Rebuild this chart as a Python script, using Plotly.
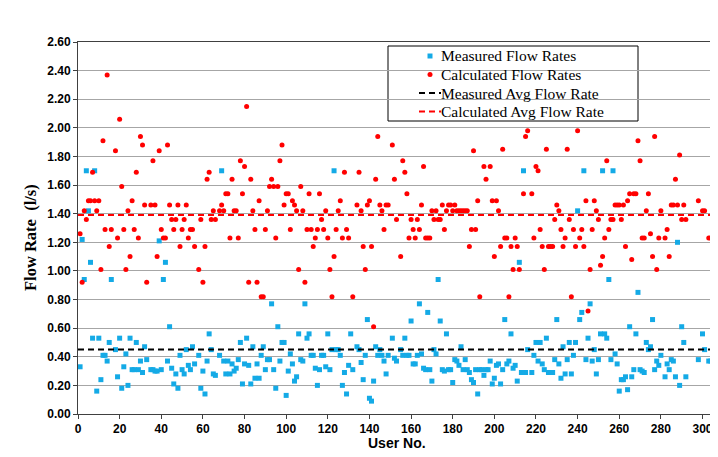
import plotly.graph_objects as go

# (user number, flow rate l/s)
measured_pairs = [
    (1, 0.33), (2, 1.22), (3, 0.94), (4, 1.70), (5, 1.42), (6, 1.06), (7, 0.53), (8, 1.70), (9, 0.16), (10, 0.53),
    (11, 0.24), (12, 0.41), (13, 0.41), (14, 0.37), (15, 0.50), (16, 0.94), (18, 0.45), (19, 0.26), (20, 0.53),
    (21, 0.18), (22, 0.33), (23, 0.42), (24, 0.20), (25, 0.53), (26, 0.31), (27, 0.31), (28, 0.50), (29, 0.31), (30, 0.37),
    (31, 0.29), (32, 0.47), (33, 0.38), (35, 0.31), (36, 0.31), (37, 0.30), (38, 0.30), (39, 1.21), (40, 0.31),
    (41, 0.94), (42, 1.06), (43, 0.37), (44, 0.61), (45, 0.32), (46, 0.21), (47, 0.28), (48, 0.18), (49, 0.41), (50, 0.31),
    (51, 0.28), (52, 0.45), (53, 0.34), (54, 0.31), (55, 0.47), (56, 0.35), (58, 0.41), (59, 0.18), (60, 0.30),
    (61, 0.14), (62, 0.37), (63, 0.56), (64, 0.45), (65, 0.28), (66, 0.27), (68, 0.41), (69, 1.70), (70, 0.37),
    (71, 0.28), (72, 0.37), (73, 0.28), (74, 0.35), (75, 0.30), (76, 0.32), (77, 0.38), (78, 0.50), (79, 0.21), (80, 0.35),
    (81, 0.53), (82, 0.34), (83, 0.21), (84, 0.47), (85, 0.25), (86, 0.35), (87, 0.25), (88, 0.41), (89, 0.47), (90, 0.31),
    (91, 0.38), (92, 0.38), (93, 0.77), (94, 0.31), (95, 0.18), (96, 0.61), (97, 0.37), (98, 0.50), (99, 0.50), (100, 0.13),
    (101, 0.30), (102, 0.42), (103, 0.35), (104, 0.23), (105, 0.26), (106, 0.56), (107, 0.38), (108, 0.37), (109, 0.77), (110, 0.53),
    (111, 0.56), (112, 0.41), (113, 0.41), (114, 0.32), (115, 0.20), (116, 0.31), (117, 0.41), (118, 0.41), (119, 0.33), (120, 0.56),
    (121, 0.31), (122, 0.45), (123, 1.70), (124, 0.45), (125, 0.45), (126, 0.41), (127, 0.20), (128, 0.29), (129, 0.14), (130, 0.34),
    (131, 0.56), (132, 0.31), (134, 0.47), (135, 0.45), (136, 0.36), (137, 0.24), (138, 0.41), (139, 0.66), (140, 0.11),
    (141, 0.09), (142, 0.23), (143, 0.47), (144, 0.41), (145, 0.45), (146, 0.41), (147, 0.37), (148, 0.28), (149, 0.41),
    (151, 0.53), (152, 0.39), (153, 0.37), (155, 0.45), (156, 0.41), (157, 0.53), (158, 0.41), (159, 0.41), (160, 0.65),
    (161, 0.35), (162, 0.35), (163, 0.41), (164, 0.77), (165, 0.42), (166, 0.32), (167, 0.31), (168, 0.71), (169, 0.31), (170, 0.23),
    (171, 0.45), (172, 0.42), (173, 0.94), (174, 0.65), (175, 0.31), (176, 0.30), (177, 0.56), (178, 0.31), (179, 0.31), (180, 0.22),
    (181, 0.38), (182, 0.37), (183, 0.34), (184, 0.47), (185, 0.31), (186, 0.38), (187, 0.31), (188, 0.29), (189, 0.24), (190, 0.22),
    (191, 0.31), (192, 0.14), (193, 0.31), (194, 0.31), (195, 0.27), (196, 0.31), (197, 0.31), (198, 0.37), (199, 0.21), (200, 0.25),
    (201, 0.34), (202, 0.35), (203, 0.21), (204, 0.31), (205, 0.66), (206, 0.35), (207, 0.37), (208, 0.56), (209, 0.32), (210, 0.34),
    (211, 0.23), (212, 1.06), (213, 0.29), (214, 1.70), (215, 0.29), (216, 0.45), (218, 0.29), (219, 0.41), (220, 0.50),
    (221, 0.37), (222, 0.50), (223, 0.35), (224, 0.31), (225, 0.53), (226, 0.29), (227, 0.29), (228, 0.29), (229, 0.38), (230, 0.66),
    (231, 0.35), (232, 0.25), (233, 0.47), (234, 0.28), (235, 0.38), (236, 0.50), (237, 0.28), (238, 0.41), (239, 0.50), (240, 1.42),
    (241, 0.66), (242, 0.71), (243, 1.70), (244, 0.38), (245, 0.53), (246, 0.77), (247, 0.37), (248, 0.45), (249, 0.28), (250, 0.38),
    (251, 0.56), (252, 1.70), (253, 0.56), (254, 0.53), (255, 0.94), (256, 0.38), (257, 1.70), (258, 0.42), (259, 0.35), (260, 0.16),
    (261, 0.24), (262, 0.24), (263, 0.26), (264, 0.17), (265, 0.61), (266, 0.26), (267, 0.31), (268, 0.56), (269, 0.85), (270, 0.31),
    (271, 0.30), (272, 0.29), (273, 0.50), (274, 0.45), (275, 0.47), (276, 0.66), (277, 0.31), (278, 0.37), (279, 0.34), (280, 0.41),
    (282, 0.26), (283, 0.35), (284, 0.31), (285, 0.38), (286, 0.37), (287, 0.26), (288, 1.20), (289, 0.20), (290, 0.61),
    (291, 0.50), (292, 0.26), (298, 0.38), (300, 0.56), (301, 0.45), (303, 0.37), (304, 0.37), (305, 1.82), (306, 0.66),
]

calculated_pairs = [
    (1, 1.26), (2, 0.92), (3, 1.42), (4, 1.36), (5, 1.49), (6, 1.49), (7, 1.69), (8, 1.49), (9, 1.42), (10, 1.49),
    (11, 1.01), (12, 1.91), (13, 1.29), (14, 2.37), (15, 1.17), (16, 1.29), (18, 1.84), (19, 1.23), (20, 2.06),
    (21, 1.59), (22, 1.29), (23, 1.01), (24, 1.42), (25, 1.10), (26, 1.49), (27, 1.29), (28, 1.69), (29, 1.23), (30, 1.94),
    (31, 1.88), (32, 1.46), (33, 0.92), (35, 1.46), (36, 1.77), (37, 1.46), (38, 1.10), (39, 1.84), (40, 1.29),
    (41, 1.23), (42, 1.23), (43, 1.88), (44, 1.46), (45, 1.36), (46, 1.29), (47, 1.36), (48, 1.46), (49, 1.17), (50, 1.29),
    (51, 1.36), (52, 1.46), (53, 1.23), (54, 1.29), (55, 1.29), (56, 1.17), (58, 1.01), (59, 1.36), (60, 0.92),
    (61, 1.17), (62, 1.64), (63, 1.69), (64, 1.36), (65, 1.42), (66, 1.36), (68, 1.42), (69, 1.46), (70, 1.42),
    (71, 1.54), (72, 1.54), (73, 1.23), (74, 1.64), (75, 1.42), (76, 1.42), (77, 1.23), (78, 1.77), (79, 1.54), (80, 1.73),
    (81, 2.15), (82, 0.92), (83, 1.64), (84, 1.42), (85, 1.29), (86, 0.92), (87, 1.49), (88, 0.82), (89, 0.82), (90, 1.29),
    (91, 1.42), (92, 1.59), (93, 1.64), (94, 1.59), (95, 1.23), (96, 1.59), (97, 1.77), (98, 1.88), (99, 1.46), (100, 1.54),
    (101, 1.54), (102, 1.29), (103, 1.49), (104, 1.46), (105, 1.42), (106, 1.01), (107, 1.59), (108, 1.42), (109, 0.92), (110, 1.29),
    (111, 1.54), (112, 1.29), (113, 1.17), (114, 1.23), (115, 1.29), (116, 1.54), (117, 1.36), (118, 1.29), (119, 1.42), (120, 1.23),
    (121, 1.01), (122, 0.82), (123, 1.10), (124, 1.29), (125, 1.42), (126, 1.49), (127, 1.23), (128, 1.69), (129, 1.29), (130, 1.23),
    (132, 0.82), (134, 1.46), (135, 1.69), (136, 1.42), (137, 1.17), (138, 1.01), (139, 1.46), (140, 1.49),
    (141, 1.17), (142, 0.61), (143, 1.64), (144, 1.94), (145, 1.46), (146, 1.42), (147, 1.29), (148, 1.46), (149, 1.46),
    (151, 1.88), (152, 1.64), (153, 1.36), (155, 1.10), (156, 1.77), (157, 1.69), (158, 1.54), (159, 1.23), (160, 1.36),
    (161, 1.29), (162, 1.23), (163, 1.36), (164, 1.29), (165, 1.46), (166, 1.73), (167, 1.23), (168, 1.23), (169, 1.23), (170, 1.42),
    (171, 1.36), (172, 1.42), (173, 1.36), (174, 1.36), (175, 1.46), (176, 1.29), (177, 1.42), (178, 1.46), (179, 1.46), (180, 1.42),
    (181, 1.46), (182, 1.42), (183, 1.42), (184, 1.42), (185, 1.42), (186, 1.42), (187, 1.42), (188, 1.17), (189, 1.29), (190, 1.84),
    (191, 1.29), (192, 1.49), (193, 0.82), (195, 1.73), (196, 1.64), (198, 1.73), (199, 1.49), (200, 1.10),
    (201, 1.49), (202, 1.42), (203, 1.17), (204, 1.85), (205, 1.23), (206, 1.23), (207, 0.82), (208, 1.17), (209, 1.01), (210, 1.23),
    (211, 1.17), (212, 1.01), (214, 1.54), (215, 1.94), (216, 1.98), (218, 1.54), (219, 1.23), (220, 1.73),
    (221, 1.70), (222, 1.29), (223, 1.17), (224, 1.01), (225, 1.85), (226, 1.17), (227, 1.17), (228, 1.17), (229, 1.36), (230, 1.46),
    (231, 1.42), (232, 1.29), (233, 1.17), (234, 1.23), (235, 1.85), (236, 1.36), (237, 0.82), (238, 1.29), (239, 1.17), (240, 1.98),
    (241, 1.23), (242, 1.29), (243, 1.17), (244, 1.49), (245, 0.72), (246, 1.01), (247, 1.29), (248, 1.49), (249, 1.42), (250, 1.36),
    (251, 1.04), (252, 1.10), (253, 1.23), (254, 1.77), (255, 1.29), (256, 1.36), (257, 1.36), (258, 1.46), (259, 1.46), (260, 1.46),
    (261, 1.36), (262, 1.46), (263, 1.17), (264, 1.49), (265, 1.54), (266, 1.08), (267, 1.54), (268, 1.54), (269, 1.91), (270, 1.77),
    (271, 1.23), (272, 1.23), (273, 1.42), (274, 1.54), (275, 1.26), (276, 1.10), (277, 1.94), (278, 1.01), (279, 1.23), (280, 1.42),
    (282, 1.23), (283, 1.29), (284, 1.10), (285, 1.46), (286, 1.46), (287, 1.64), (288, 1.46), (289, 1.81), (290, 1.36),
    (291, 1.46), (292, 1.36), (298, 1.49), (300, 1.42), (301, 1.42), (303, 1.23), (304, 1.23), (305, 1.17), (306, 1.29),
]

measured_users = [u for u, _ in measured_pairs]
measured_values = [v for _, v in measured_pairs]
calculated_users = [u for u, _ in calculated_pairs]
calculated_values = [v for _, v in calculated_pairs]

measured_avg = 0.45
calculated_avg = 1.39
x_span = [0, 306]

series_names = ["Measured Flow Rates", "Calculated Flow Rates",
                "Measured Avg Flow Rate", "Calculated Avg Flow Rate"]

BLUE = "#14AAE6"
RED = "#FF0000"
DASH = "6px,4px"

fig = go.Figure()
fig.add_trace(go.Scatter(
    x=measured_users, y=measured_values, mode="markers", name=series_names[0],
    marker=dict(symbol="square", size=5, color=BLUE, line=dict(width=0)),
))
fig.add_trace(go.Scatter(
    x=calculated_users, y=calculated_values, mode="markers", name=series_names[1],
    marker=dict(symbol="circle", size=5, color=RED, line=dict(width=0)),
))
fig.add_trace(go.Scatter(
    x=x_span, y=[measured_avg, measured_avg], mode="lines", name=series_names[2],
    line=dict(color="black", dash=DASH, width=2),
))
fig.add_trace(go.Scatter(
    x=x_span, y=[calculated_avg, calculated_avg], mode="lines", name=series_names[3],
    line=dict(color=RED, dash=DASH, width=2),
))

# The page body has an 8px margin; the figure is sized so that the plot area
# lands at x 78..715, y 42..414 in the 718x457 window.
OFF = 8
FIG_W, FIG_H = 718 - OFF, 457 - OFF
PL, PR, PT, PB = 78, 715, 42, 414


def px_x(v):
    return (v - PL) / (PR - PL)


def px_y(v):
    return (PB - v) / (PB - PT)


tick_font = dict(family="Liberation Sans, Arial", size=12, color="black", weight="bold")
legend_font = dict(family="Liberation Serif, Times New Roman", size=15.5, color="black")

# hand-built legend (box, symbols, labels)
legend_rows_y = [56, 74.5, 93, 111.5]
sym_x = 430
shapes = [dict(
    type="rect", xref="paper", yref="paper",
    x0=px_x(388), x1=px_x(638), y0=px_y(121), y1=px_y(46),
    line=dict(color="black", width=1), fillcolor="white", layer="below",
)]
shapes.append(dict(type="rect", xref="paper", yref="paper",
                   x0=px_x(sym_x - 2.5), x1=px_x(sym_x + 2.5),
                   y0=px_y(legend_rows_y[0] + 2.5), y1=px_y(legend_rows_y[0] - 2.5),
                   line=dict(width=0), fillcolor=BLUE))
shapes.append(dict(type="circle", xref="paper", yref="paper",
                   x0=px_x(sym_x - 2.5), x1=px_x(sym_x + 2.5),
                   y0=px_y(legend_rows_y[1] + 2.5), y1=px_y(legend_rows_y[1] - 2.5),
                   line=dict(width=0), fillcolor=RED))
for row, col in ((2, "black"), (3, RED)):
    shapes.append(dict(type="line", xref="paper", yref="paper",
                       x0=px_x(419), x1=px_x(441),
                       y0=px_y(legend_rows_y[row]), y1=px_y(legend_rows_y[row]),
                       line=dict(color=col, width=2, dash=DASH)))

annotations = []
for name, ry in zip(series_names, legend_rows_y):
    annotations.append(dict(text=name, xref="paper", yref="paper",
                            x=px_x(439), y=px_y(ry), xanchor="left", yanchor="middle",
                            showarrow=False, font=legend_font))
annotations.append(dict(text="<b>User No.</b>", xref="paper", yref="paper",
                        x=0.5, y=px_y(443), xanchor="center", yanchor="middle", showarrow=False,
                        font=dict(family="Liberation Sans, Arial", size=14, color="black")))
annotations.append(dict(text="<b>Flow Rate  (l/s)</b>", xref="paper", yref="paper",
                        x=px_x(30), y=px_y(238), xanchor="center", yanchor="middle",
                        showarrow=False, textangle=-90,
                        font=dict(family="Liberation Serif, Times New Roman", size=16.5, color="black")))

fig.update_layout(
    width=FIG_W, height=FIG_H,
    margin=dict(l=PL - OFF, r=FIG_W - (PR - OFF), t=PT - OFF, b=FIG_H - (PB - OFF), autoexpand=False),
    paper_bgcolor="white", plot_bgcolor="white",
    showlegend=False,
    xaxis=dict(
        range=x_span, tick0=0, dtick=20, showgrid=False, zeroline=False, automargin=False,
        showline=True, linecolor="#404040", linewidth=1, mirror=True,
        ticks="outside", ticklen=4, tickcolor="#404040",
        tickfont=tick_font,
    ),
    yaxis=dict(
        range=[0, 2.6], tick0=0, dtick=0.2, tickformat=".2f", automargin=False,
        showgrid=True, gridcolor="#A6A6A6", gridwidth=1, zeroline=False,
        showline=True, linecolor="#404040", linewidth=1, mirror=True,
        ticks="outside", ticklen=4, tickcolor="#404040",
        tickfont=tick_font,
    ),
    shapes=shapes,
    annotations=annotations,
)

fig.write_html("out.html")
